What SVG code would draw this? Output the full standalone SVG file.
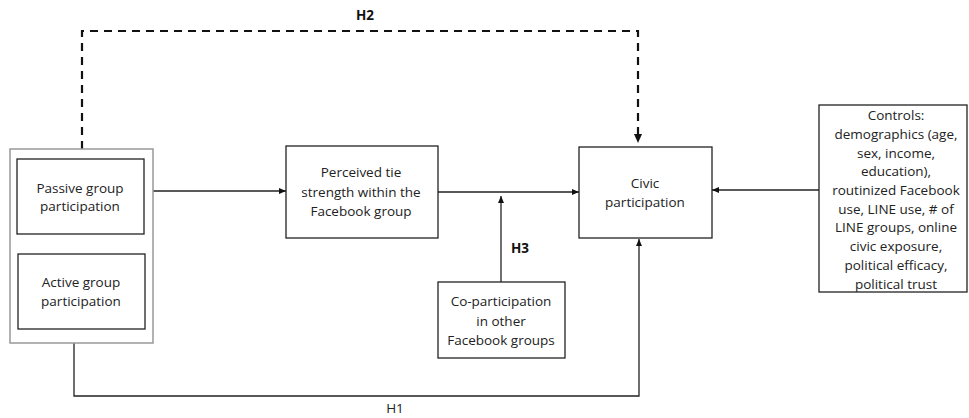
<svg xmlns="http://www.w3.org/2000/svg" width="969" height="418" viewBox="0 0 969 418">
<style>
.box{fill:#fff;stroke:#222;stroke-width:1.3}
.outer{fill:#fff;stroke:#999;stroke-width:1.5}
.t{font-family:"Open Sans","Liberation Sans",sans-serif;font-size:13.5px;fill:#222;text-anchor:middle}
.b{font-family:"Open Sans","Liberation Sans",sans-serif;font-size:13.5px;font-weight:bold;fill:#111;text-anchor:middle}
.c{fill:none;stroke:#222;stroke-width:1.3}
.d{fill:none;stroke:#111;stroke-width:2.2;stroke-dasharray:8,6}
</style>
<defs>
<marker id="ah" markerWidth="8" markerHeight="8" refX="7" refY="4" orient="auto" markerUnits="userSpaceOnUse">
<path d="M0,1 L7,4 L0,7 Z" fill="#111"/>
</marker>
</defs>
<g id="connectors">
<path class="d" d="M82,149 V31 H638 V134"/>
<path d="M634,134 L638,143 L642,134 Z" fill="#111"/>
<line class="c" x1="153" y1="191" x2="286" y2="191" marker-end="url(#ah)"/>
<line class="c" x1="438" y1="192" x2="579" y2="192" marker-end="url(#ah)"/>
<line class="c" x1="501" y1="282" x2="501" y2="196" marker-end="url(#ah)"/>
<line class="c" x1="819" y1="190" x2="712" y2="190" marker-end="url(#ah)"/>
<path class="c" d="M74,343 V396 H639 V239" marker-end="url(#ah)"/>
<text class="b" x="365" y="20">H2</text>
<text class="b" x="520" y="253">H3</text>
<text class="t" x="395" y="413">H1</text>
</g>
<g id="participation-group">
<rect class="outer" x="10" y="149" width="143" height="194"/>
</g>
<g id="passive">
<rect class="box" x="17" y="159" width="127" height="75"/>
<text class="t" x="80" y="193">Passive group</text>
<text class="t" x="80" y="211">participation</text>
</g>
<g id="active">
<rect class="box" x="18" y="254" width="127" height="75"/>
<text class="t" x="81" y="287">Active group</text>
<text class="t" x="81" y="306">participation</text>
</g>
<g id="tie-strength">
<rect class="box" x="286" y="146" width="152" height="92"/>
<text class="t" x="361" y="177">Perceived tie</text>
<text class="t" x="361" y="196.5">strength within the</text>
<text class="t" x="361" y="216">Facebook group</text>
</g>
<g id="civic">
<rect class="box" x="579" y="147" width="133" height="91"/>
<text class="t" x="645" y="188">Civic</text>
<text class="t" x="645" y="207">participation</text>
</g>
<g id="co-participation">
<rect class="box" x="438" y="282" width="127" height="76"/>
<text class="t" x="501" y="306">Co-participation</text>
<text class="t" x="501" y="325.5">in other</text>
<text class="t" x="501" y="345">Facebook groups</text>
</g>
<g id="controls">
<rect class="box" x="819" y="105" width="148" height="187"/>
<text class="t" x="896" y="120">Controls:</text>
<text class="t" x="896" y="138.5">demographics (age,</text>
<text class="t" x="896" y="157.5">sex, income,</text>
<text class="t" x="896" y="176">education),</text>
<text class="t" x="896" y="194.5">routinized Facebook</text>
<text class="t" x="896" y="213.5">use, LINE use, # of</text>
<text class="t" x="896" y="232">LINE groups, online</text>
<text class="t" x="896" y="251">civic exposure,</text>
<text class="t" x="896" y="269.5">political efficacy,</text>
<text class="t" x="896" y="288.5">political trust</text>
</g>
</svg>
